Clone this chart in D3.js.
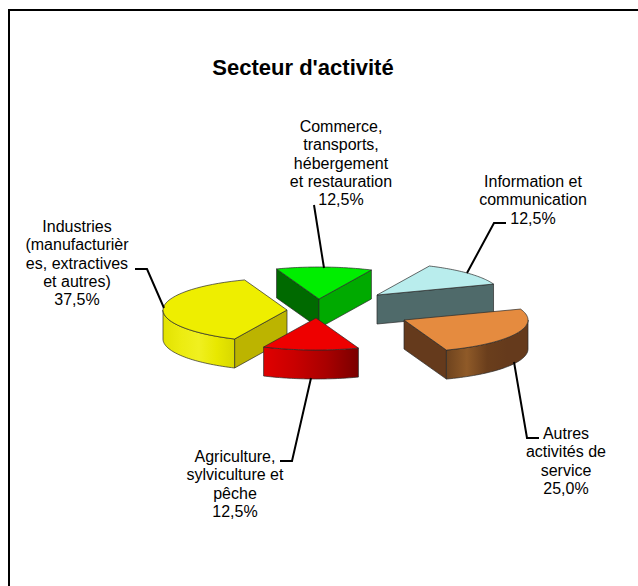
<!DOCTYPE html>
<html>
<head>
<meta charset="utf-8">
<script src="https://cdn.jsdelivr.net/npm/d3@7"></script>
<style>
  html, body { margin: 0; padding: 0; background: #fff; overflow: hidden; }
  text { font-family: "Liberation Sans", Arial, sans-serif; fill: #000; }
</style>
</head>
<body>
<svg id="chart" width="638" height="586"></svg>
<script>
const title = "Secteur d'activité";
const categories = [
  ['Commerce,', 'transports,', 'hébergement', 'et restauration'],
  ['Information et', 'communication'],
  ['Autres', 'activités de', 'service'],
  ['Agriculture,', 'sylviculture et', 'pêche'],
  ['Industries', '(manufacturièr', 'es, extractives', 'et autres)']
];
const values = [12.5, 12.5, 25, 12.5, 37.5];

// slice styles, same order as categories
const topColors = ['#00ee00', '#b9eded', '#e58b3f', '#ee0000', '#eeee00'];
const startWall = ['#006a00', '#4f6a6a', '#653a1c', '#a00000', '#bcb400'];
const endWall = ['#00aa00', '#4f6a6a', '#653a1c', '#a00000', '#bcb400'];
const rimStops = [
  ['#006a00', '#006a00'],
  ['#4f6a6a', '#4f6a6a'],
  ['#6e431e', '#8f5a28', '#6a3e1c', '#653a1c', '#653a1c'],
  ['#e00000', '#c80000', '#a80000', '#7a0000'],
  ['#e2e200', '#ecec10', '#f0f020', '#e8e800', '#d8d800']
];

// layout: where each exploded slice has its tip, and label anchors
const tips = [[319, 299], [377, 295], [404, 320], [316, 318], [287, 310]];
const labelPos = [[341, 132], [533, 187], [566, 439], [235, 462], [77, 232]];
const leaders = [
  [[314, 205], [324, 268]],
  [[506, 223], [494, 223], [467, 273]],
  [[539, 438], [527, 438], [514, 362]],
  [[280, 461], [292, 461], [311, 378]],
  [[135, 269], [147, 269], [164, 308]]
];
const rx = 124, ry = 32, depth = 29, lineStep = 18.3;

const svg = d3.select('#chart');
const defs = svg.append('defs');

// open frame, runs off the right and bottom of the page
svg.append('path')
  .attr('d', 'M9,586V10H638')
  .attr('fill', 'none')
  .attr('stroke', '#000')
  .attr('stroke-width', 2);

svg.append('text')
  .attr('x', 303)
  .attr('y', 75)
  .attr('text-anchor', 'middle')
  .attr('font-size', 22)
  .attr('font-weight', 'bold')
  .text(title);

const pie = d3.pie()
  .sort(null)
  .startAngle(-20 * Math.PI / 180)
  .endAngle(340 * Math.PI / 180);

const line = d3.line();

// angle is clockwise from north, as d3.pie gives it
function pt(c, a, drop) {
  return [c[0] + rx * Math.sin(a), c[1] - ry * Math.cos(a) + (drop || 0)];
}

function arcPoints(c, a0, a1, drop) {
  const n = 40;
  return d3.range(n + 1).map(i => pt(c, a0 + (a1 - a0) * i / n, drop));
}

const slices = pie(values);

// back to front
const drawOrder = [0, 1, 4, 2, 3];

drawOrder.forEach(i => {
  const s = slices[i];
  const c = tips[i];
  const g = svg.append('g');

  function face(points, fill) {
    g.append('path')
      .attr('d', line(points) + 'Z')
      .attr('fill', fill)
      .attr('stroke', '#2a2a2a')
      .attr('stroke-width', 0.7)
      .attr('stroke-linejoin', 'round');
  }

  function wall(a, fill) {
    const p = pt(c, a);
    face([c, p, [p[0], p[1] + depth], [c[0], c[1] + depth]], fill);
  }

  if (Math.sin(s.startAngle) < 0) wall(s.startAngle, startWall[i]);
  if (Math.sin(s.endAngle) > 0) wall(s.endAngle, endWall[i]);

  // outer wall, only the part that faces the viewer
  const a0 = Math.max(s.startAngle, Math.PI / 2);
  const a1 = Math.min(s.endAngle, 3 * Math.PI / 2);
  if (a1 > a0) {
    const top = arcPoints(c, a0, a1, 0);
    const low = arcPoints(c, a0, a1, depth).reverse();
    const xs = d3.extent(top, d => d[0]);
    const stops = rimStops[i];
    const grad = defs.append('linearGradient')
      .attr('id', 'rim' + i)
      .attr('gradientUnits', 'userSpaceOnUse')
      .attr('x1', xs[0]).attr('x2', xs[1])
      .attr('y1', 0).attr('y2', 0);
    stops.forEach((col, k) => {
      grad.append('stop')
        .attr('offset', k / (stops.length - 1))
        .attr('stop-color', col);
    });
    face(top.concat(low), `url(#rim${i})`);
  }

  face([c].concat(arcPoints(c, s.startAngle, s.endAngle, 0)), topColors[i]);
});

// leader lines
leaders.forEach(pts => {
  svg.append('path')
    .attr('d', line(pts))
    .attr('fill', 'none')
    .attr('stroke', '#000')
    .attr('stroke-width', 2);
});

const pct = d3.format('.1f');

categories.forEach((lines, i) => {
  const t = svg.append('text')
    .attr('text-anchor', 'middle')
    .attr('font-size', 16);
  lines.concat([pct(values[i]).replace('.', ',') + '%']).forEach((txt, k) => {
    t.append('tspan')
      .attr('x', labelPos[i][0])
      .attr('y', labelPos[i][1] + k * lineStep)
      .text(txt);
  });
});
</script>
</body>
</html>
